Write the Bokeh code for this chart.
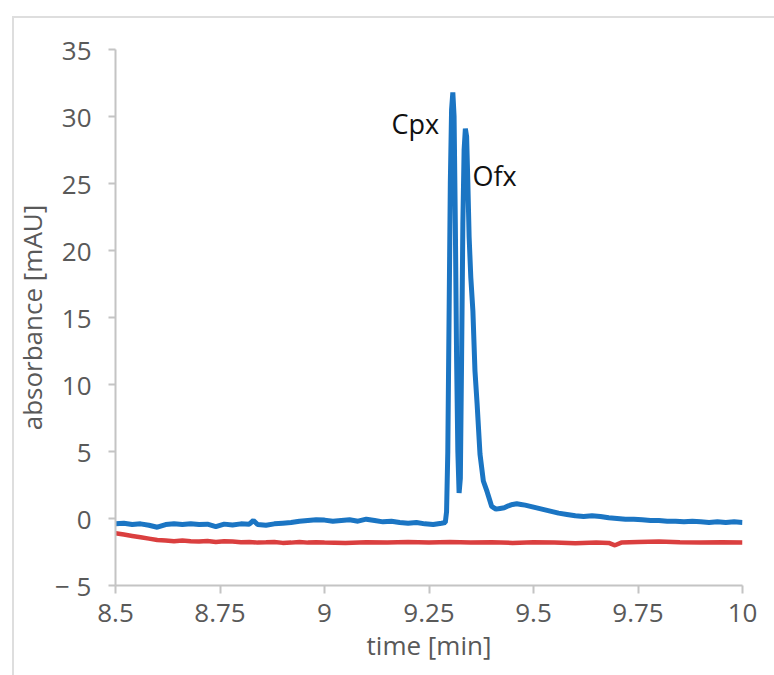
from bokeh.plotting import figure
from bokeh.models import Range1d, FixedTicker
from bokeh.core.properties import value
from bokeh.embed import file_html
from bokeh.resources import INLINE

# ---- data ----
blue_t = [8.50, 8.52, 8.54, 8.56, 8.58, 8.60, 8.62, 8.64, 8.66, 8.68, 8.70, 8.72,
          8.74, 8.76, 8.78, 8.80, 8.82, 8.83, 8.84, 8.86, 8.88, 8.90, 8.92, 8.94,
          8.96, 8.98, 9.00, 9.02, 9.04, 9.06, 9.08, 9.10, 9.12, 9.14, 9.16, 9.18,
          9.20, 9.22, 9.24, 9.26, 9.28, 9.289, 9.292, 9.295, 9.298, 9.301, 9.304,
          9.307, 9.310, 9.313, 9.316, 9.319, 9.322, 9.325, 9.328, 9.331, 9.334,
          9.337, 9.340, 9.343, 9.346, 9.350, 9.355, 9.360, 9.365, 9.372, 9.380,
          9.389, 9.395, 9.40, 9.41, 9.42, 9.43, 9.44, 9.45, 9.46, 9.47, 9.48,
          9.50, 9.52, 9.54, 9.56, 9.58, 9.60, 9.62, 9.64, 9.66, 9.68, 9.70, 9.72,
          9.74, 9.76, 9.78, 9.80, 9.82, 9.84, 9.86, 9.88, 9.90, 9.92, 9.94, 9.96,
          9.98, 10.00]
blue_v = [-0.40, -0.35, -0.45, -0.40, -0.50, -0.65, -0.45, -0.40, -0.45, -0.40,
          -0.45, -0.42, -0.60, -0.42, -0.48, -0.40, -0.42, -0.15, -0.45, -0.50,
          -0.40, -0.35, -0.30, -0.20, -0.15, -0.10, -0.12, -0.20, -0.15, -0.10,
          -0.20, -0.05, -0.15, -0.25, -0.20, -0.30, -0.35, -0.30, -0.40, -0.45,
          -0.35, -0.30, 0.5, 5.0, 15.0, 25.0, 30.5, 31.8, 30.0, 22.0, 12.0, 5.0,
          1.9, 3.0, 12.0, 22.0, 27.5, 29.1, 28.5, 25.0, 21.0, 18.0, 15.5, 11.0,
          8.6, 4.8, 2.8, 2.0, 1.4, 0.9, 0.7, 0.75, 0.8, 0.95, 1.05, 1.1, 1.05,
          1.0, 0.85, 0.7, 0.55, 0.4, 0.3, 0.2, 0.15, 0.2, 0.15, 0.05, 0.0, -0.05,
          -0.05, -0.10, -0.15, -0.15, -0.20, -0.20, -0.25, -0.20, -0.25, -0.30,
          -0.25, -0.30, -0.25, -0.30]

red_t = [8.50, 8.52, 8.54, 8.56, 8.58, 8.60, 8.62, 8.64, 8.66, 8.68, 8.70, 8.72,
         8.74, 8.76, 8.78, 8.80, 8.82, 8.84, 8.86, 8.88, 8.90, 8.92, 8.94, 8.96,
         8.98, 9.00, 9.05, 9.10, 9.15, 9.20, 9.25, 9.30, 9.35, 9.40, 9.45, 9.50,
         9.55, 9.60, 9.65, 9.68, 9.695, 9.71, 9.75, 9.80, 9.85, 9.90, 9.95, 10.00]
red_v = [-1.10, -1.20, -1.30, -1.40, -1.50, -1.60, -1.65, -1.70, -1.65, -1.70,
         -1.72, -1.68, -1.75, -1.70, -1.72, -1.78, -1.75, -1.80, -1.78, -1.75,
         -1.82, -1.80, -1.75, -1.80, -1.78, -1.80, -1.82, -1.78, -1.80, -1.76,
         -1.80, -1.75, -1.80, -1.78, -1.82, -1.78, -1.80, -1.85, -1.80, -1.82,
         -2.00, -1.80, -1.75, -1.72, -1.78, -1.80, -1.78, -1.80]

x_ticks = [8.5, 8.75, 9, 9.25, 9.5, 9.75, 10]
x_tick_labels = ["8.5", "8.75", "9", "9.25", "9.5", "9.75", "10"]
y_ticks = [-5, 0, 5, 10, 15, 20, 25, 30, 35]
y_tick_labels = ["\u2212 5", "0", "5", "10", "15", "20", "25", "30", "35"]

peak_names = ["Cpx", "Ofx"]
peak_label_t = [9.160, 9.354]
peak_label_v = [29.45, 25.6]

FONT = "Open Sans"
AXIS_GREY = "#c4c4c4"
TEXT_GREY = "#595959"

p = figure(width=774, height=675, x_range=Range1d(8.5, 10), y_range=Range1d(-5, 35),
           output_backend="svg", toolbar_location=None,
           min_border_left=115, min_border_right=32, min_border_top=49,
           min_border_bottom=90)
p.styles = {
    "background-image": "linear-gradient(#dedede, #dedede), linear-gradient(#dedede, #dedede)",
    "background-size": "calc(100% - 12px) 2px, 2px calc(100% - 16px)",
    "background-position": "12px 16px, 12px 16px",
    "background-repeat": "no-repeat",
}
p.border_fill_color = None
p.background_fill_color = "white"
p.outline_line_color = None
p.grid.visible = False

p.line(red_t, red_v, line_color="#da3f3f", line_width=4.5)
p.line(blue_t, blue_v, line_color="#1b75c3", line_width=5)

p.text(x=peak_label_t, y=peak_label_v, text=peak_names, text_font=value(FONT),
       text_font_size="27px", text_color="#111111", text_align="left",
       text_baseline="alphabetic")

for ax in (p.xaxis[0], p.yaxis[0]):
    ax.axis_line_color = AXIS_GREY
    ax.axis_line_width = 2
    ax.major_tick_line_color = AXIS_GREY
    ax.major_tick_line_width = 2
    ax.major_tick_in = 0
    ax.minor_tick_line_color = None
    ax.major_label_text_font = FONT
    ax.major_label_text_font_size = "26px"
    ax.major_label_text_color = TEXT_GREY
    ax.axis_label_text_font = FONT
    ax.axis_label_text_font_size = "26px"
    ax.axis_label_text_font_style = "normal"
    ax.axis_label_text_color = TEXT_GREY

p.xaxis.ticker = FixedTicker(ticks=x_ticks)
p.xaxis.major_label_overrides = dict(zip(x_ticks, x_tick_labels))
p.xaxis.major_tick_out = 8
p.xaxis.major_label_standoff = 10
p.xaxis.axis_label = "time [min]"
p.xaxis.axis_label_standoff = 2

p.yaxis.ticker = FixedTicker(ticks=y_ticks)
p.yaxis.major_label_overrides = dict(zip(y_ticks, y_tick_labels))
p.yaxis.major_tick_out = 7
p.yaxis.major_label_standoff = 17
p.yaxis.axis_label = "absorbance [mAU]"
p.yaxis.axis_label_standoff = 2

open("out.html", "w").write(file_html(p, INLINE))
